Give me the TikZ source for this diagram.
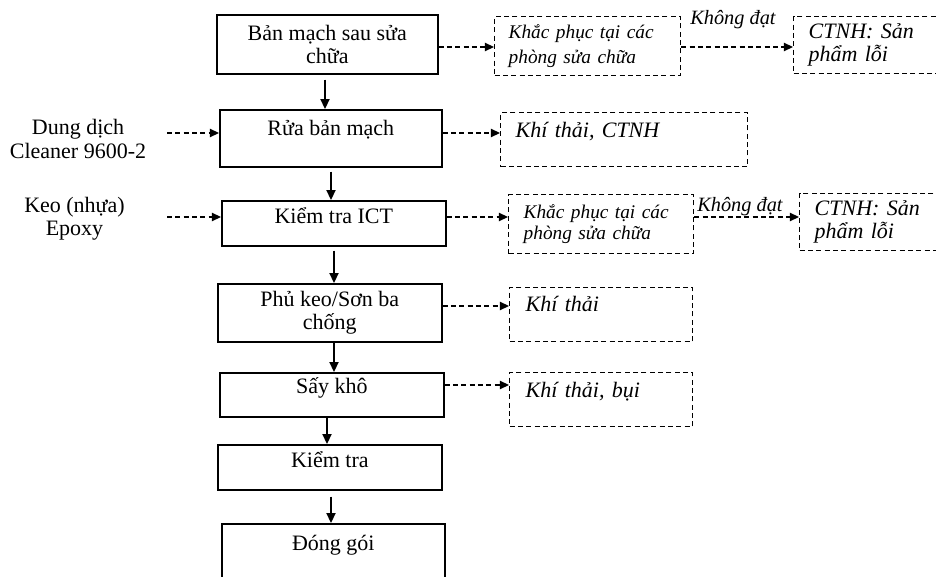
\documentclass[tikz,border=0pt]{standalone}
\usepackage{fontspec}
\setmainfont{Liberation Serif}
\usetikzlibrary{arrows.meta}
\begin{document}
\begin{tikzpicture}[x=0.6pt,y=-0.6pt,
  every node/.style={font=\fontsize{13.2}{14}\selectfont},
  pbox/.style={draw, line width=0.95pt, inner sep=0pt, anchor=north west, align=center},
  sbox/.style={draw, line width=0.95pt, inner sep=0pt, anchor=north west},
  wbox/.style={draw, line width=0.8pt, dash pattern=on 3pt off 2pt, anchor=north west,
               inner ysep=0pt, align=left, font=\fontsize{13.2}{14}\selectfont\itshape},
  flow/.style={line width=0.9pt, -{Triangle[length=6pt,width=5.5pt]}},
  dflow/.style={line width=0.8pt, dash pattern=on 3pt off 2pt, -{Triangle[length=5.5pt,width=5pt]}},
  note/.style={font=\fontsize{12.2}{13}\selectfont\itshape, inner sep=0pt, anchor=base west}]

\clip (0,0) rectangle (936,577);

% main process column
\node[pbox, minimum width=132.6pt, minimum height=35.4pt] (b1) at (216,14) {Bản mạch sau sửa\\chữa};
\node[sbox, minimum width=133.2pt, text height=15.6pt, text depth=18.6pt] (b2) at (219,109) {Rửa bản mạch};
\node[sbox, minimum width=134.4pt, text height=13.8pt, text depth=13.2pt] (b3) at (221,200) {Kiểm tra ICT};
\node[pbox, minimum width=134.4pt, minimum height=34.8pt] (b4) at (217,283) {Phủ keo/Sơn ba\\chống};
\node[sbox, minimum width=134.4pt, text height=12.6pt, text depth=13.8pt] (b5) at (219,372) {Sấy khô};
\node[sbox, minimum width=134.4pt, text height=13.8pt, text depth=13.2pt] (b6) at (217,444) {Kiểm tra};
\node[sbox, minimum width=133.8pt, text height=16.2pt, text depth=36pt] (b7) at (221,523) {Đóng gói};

% outputs (dashed boxes)
\node[wbox, inner xsep=8.4pt, text width=94.8pt, minimum height=35.4pt,
      font=\fontsize{11.6}{15}\selectfont\itshape] (d1) at (494,16) {Khắc phục tại các\\phòng sửa chữa};
\node[wbox, inner xsep=9pt, text width=130.2pt, text height=15pt, text depth=17.4pt] (d2) at (500,112) {Khí thải, CTNH};
\node[wbox, inner xsep=9pt, text width=93pt, minimum height=35.4pt,
      font=\fontsize{11.6}{13}\selectfont\itshape] (d3) at (508,194) {Khắc phục tại các\\phòng sửa chữa};
\node[wbox, inner xsep=9.6pt, text width=90.6pt, text height=14.4pt, text depth=18pt] (d4) at (509,287) {Khí thải};
\node[wbox, inner xsep=9.6pt, text width=90.6pt, text height=15pt, text depth=17.4pt] (d5) at (509,372) {Khí thải, bụi};
\node[wbox, inner xsep=9pt, text width=100pt, minimum height=34.2pt] (c1) at (793,16) {CTNH: Sản\\phẩm lỗi};
\node[wbox, inner xsep=9pt, text width=100pt, minimum height=34.2pt] (c2) at (799,193) {CTNH: Sản\\phẩm lỗi};

% labels on the reject arrows
\node[note] (l1) at (690,25) {Không đạt};
\node[note] (l2) at (697,211) {Không đạt};

% inputs
\node[align=center, inner sep=0pt] (in1) at (78,139) {Dung dịch\\Cleaner 9600-2};
\node[align=center, inner sep=0pt] (in2) at (74.5,218.5) {Keo (nhựa)\\Epoxy};

% arrow rows and columns
\coordinate (r1) at (0,47);
\coordinate (r2) at (0,133);
\coordinate (r3) at (0,217);
\coordinate (r4) at (0,306);
\coordinate (r5) at (0,385);
\coordinate (s1) at (167,133);
\coordinate (s2) at (167,217);
\coordinate (v1) at (325,0);
\coordinate (v2) at (331,0);
\coordinate (v3) at (334,0);
\coordinate (v4) at (334,0);
\coordinate (v5) at (327,0);
\coordinate (v6) at (331,0);

% main flow
\draw[flow, shorten <=3pt] (b1.south -| v1) -- (b2.north -| v1);
\draw[flow, shorten <=2.4pt] (b2.south -| v2) -- (b3.north -| v2);
\draw[flow, shorten <=2.4pt] (b3.south -| v3) -- (b4.north -| v3);
\draw[flow] (b4.south -| v4) -- (b5.north -| v4);
\draw[flow] (b5.south -| v5) -- (b6.north -| v5);
\draw[flow, shorten <=3.6pt] (b6.south -| v6) -- (b7.north -| v6);

% side flows
\draw[dflow] (b1.east |- r1) -- (d1.west |- r1);
\draw[dflow] (d1.east |- r1) -- (c1.west |- r1);
\draw[dflow] (b2.east |- r2) -- (d2.west |- r2);
\draw[dflow] (b3.east |- r3) -- (d3.west |- r3);
\draw[dflow] (d3.east |- r3) -- (c2.west |- r3);
\draw[dflow] (b4.east |- r4) -- (d4.west |- r4);
\draw[dflow] (b5.east |- r5) -- (d5.west |- r5);
\draw[dflow] (s1) -- (b2.west |- s1);
\draw[dflow] (s2) -- (b3.west |- s2);
\end{tikzpicture}
\end{document}
